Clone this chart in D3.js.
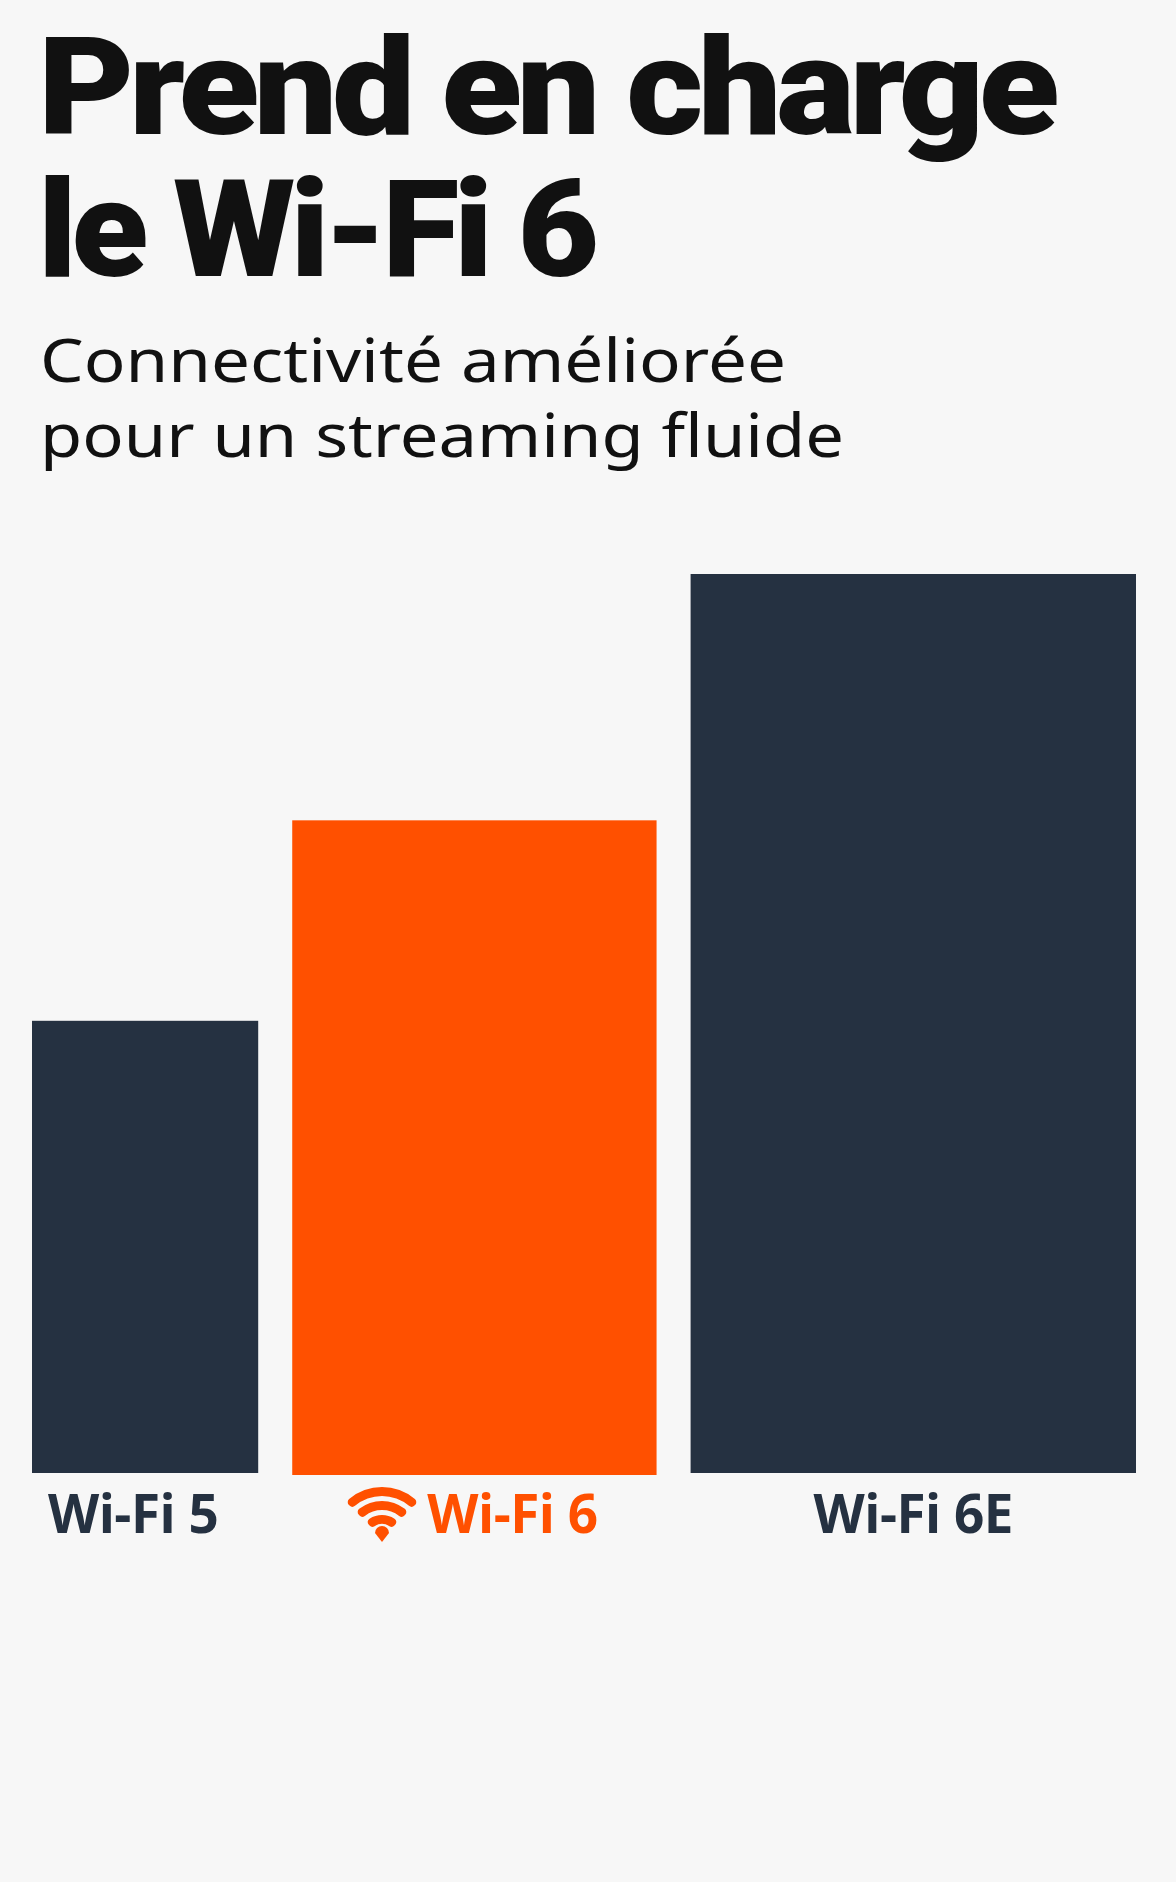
<!DOCTYPE html>
<html><head><meta charset="utf-8">
<script src="https://cdn.jsdelivr.net/npm/d3@7"></script>
<style>body{margin:0;background:#f7f7f7}</style></head>
<body><script>
const categories = ["Wi-Fi 5", "Wi-Fi 6", "Wi-Fi 6E"];
const values = [50.3, 72.6, 100];
const widths = [226, 364, 445];
const colors = ["#253141", "#ff5000", "#253141"];
const titleLines = ["Prend en charge", "le Wi-Fi 6"];
const subtitleLines = ["Connectivité améliorée", "pour un streaming fluide"];

const W = 1176, H = 1882;
const svg = d3.select("body").append("svg").attr("width", W).attr("height", H);
svg.append("rect").attr("width", W).attr("height", H).attr("fill", "#f7f7f7");

svg.selectAll("text.t").data(titleLines).join("text")
  .attr("x", 38).attr("y", (d, i) => 134 + i * 142)
  .attr("font-family", "Roboto").attr("font-weight", 900).attr("font-size", 136)
  .attr("letter-spacing", -5).attr("fill", "#111")
  .attr("textLength", (d, i) => i === 0 ? 1016 : 556).attr("lengthAdjust", "spacingAndGlyphs")
  .text(d => d);

svg.selectAll("text.s").data(subtitleLines).join("text")
  .attr("x", 40).attr("y", (d, i) => 382 + i * 75)
  .attr("font-family", "Noto Sans").attr("font-size", 60).attr("fill", "#111")
  .attr("textLength", (d, i) => i === 0 ? 746 : 804).attr("lengthAdjust", "spacingAndGlyphs")
  .text(d => d);

const gap = 34;
const starts = []; let acc = 0;
widths.forEach(w => { starts.push(acc); acc += w + gap; });
const x = d3.scaleLinear().domain([0, acc - gap]).range([32, 1136]);
const y = d3.scaleLinear().domain([0, 100]).range([1473, 574]);

const data = categories.map((c, i) => ({c, v: values[i], s: starts[i], w: widths[i], col: colors[i]}));
svg.selectAll("rect.b").data(data).join("rect")
  .attr("x", d => x(d.s)).attr("width", d => x(d.s + d.w) - x(d.s))
  .attr("y", d => y(d.v)).attr("height", d => y(0) - y(d.v) + (d.c === "Wi-Fi 6" ? 2 : 0))
  .attr("fill", d => d.col);

const offs = [-12, 38, 0];
svg.selectAll("text.l").data(data).join("text")
  .attr("x", (d, i) => x(d.s + d.w / 2) + offs[i]).attr("y", 1533)
  .attr("text-anchor", "middle")
  .attr("font-family", "Open Sans").attr("font-weight", 700).attr("font-size", 53)
  .attr("letter-spacing", -0.5)
  .attr("fill", d => d.col).text(d => d.c);

const cx = 382, cy = 1538;
const g = svg.append("g").attr("transform", `translate(${cx},${cy})`).attr("fill", "#ff5000");
[[14, 23], [28, 37], [42, 51]].forEach(([r0, r1]) => {
  g.append("path").attr("d", d3.arc().innerRadius(r0).outerRadius(r1)
    .startAngle(-Math.PI / 4).endAngle(Math.PI / 4).cornerRadius(4)());
});
g.append("path").attr("d", "M-7,-5 A7,7 0 1 1 7,-5 L0,4 Z");
</script></body></html>
